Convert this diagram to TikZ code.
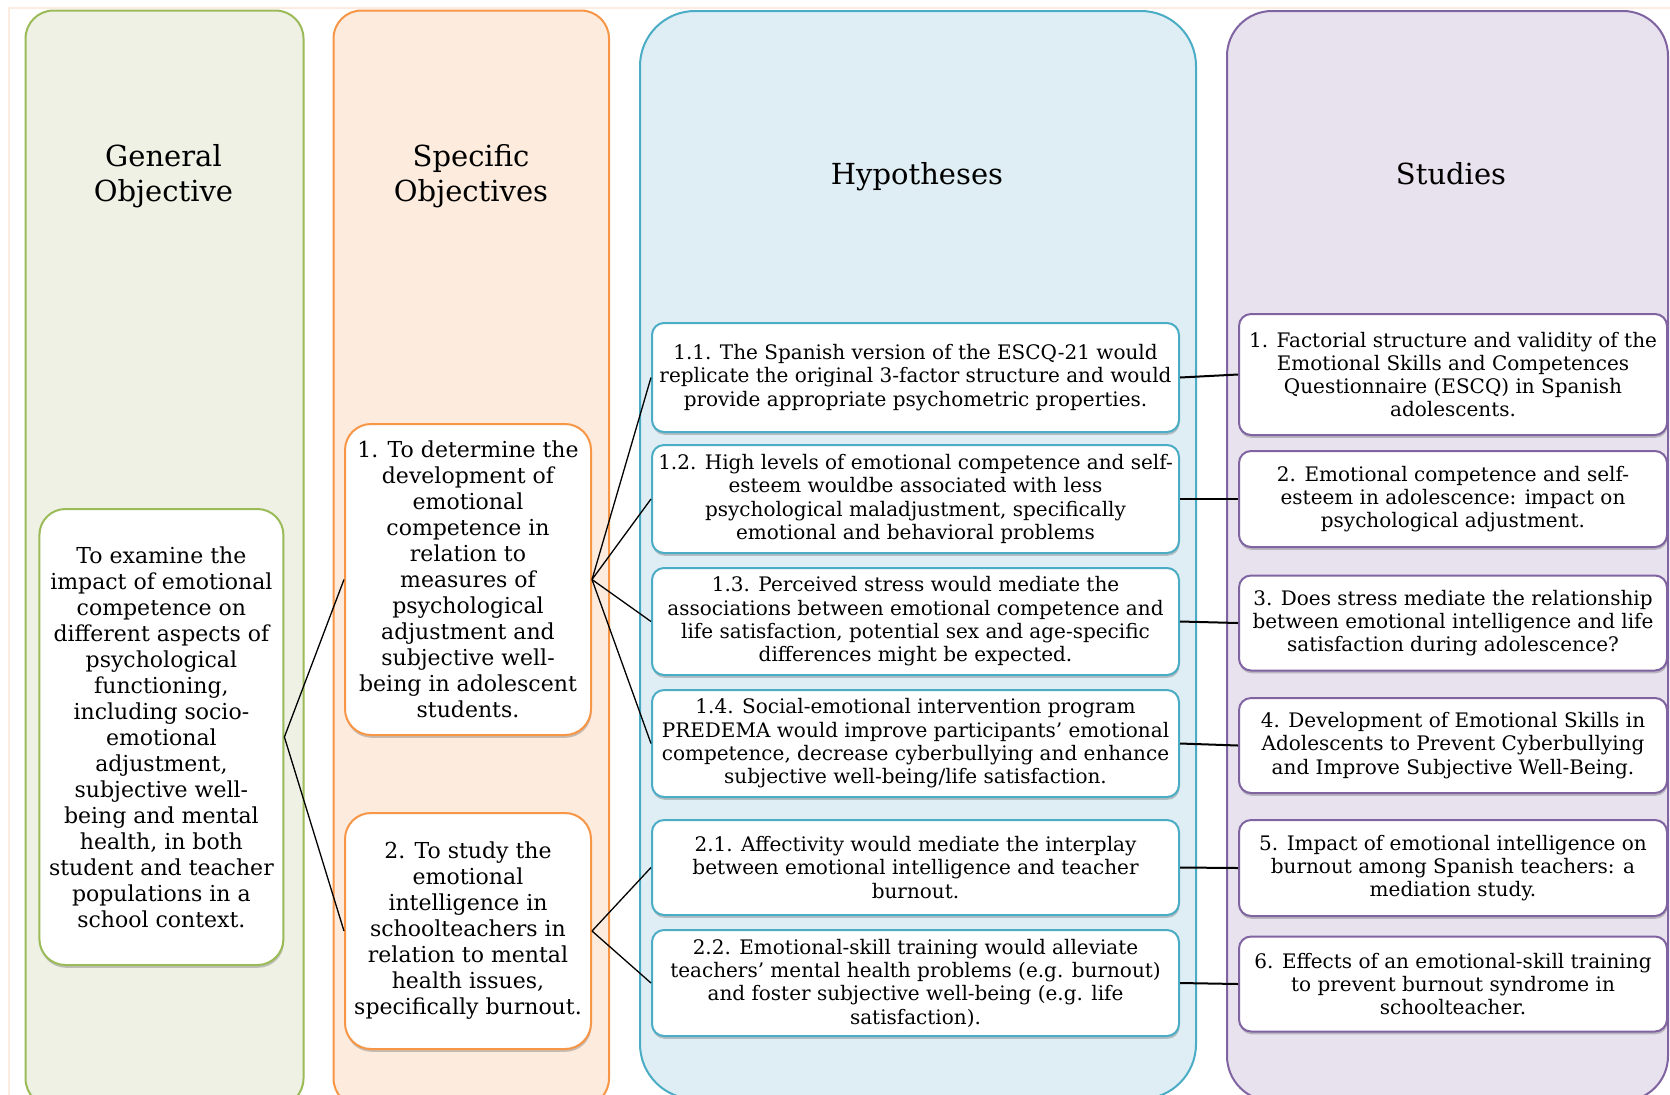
\documentclass[tikz,border=0pt]{standalone}
\usepackage{fontspec}
\newfontfamily\serifbody{DejaVu Serif}
\usetikzlibrary{shadows}

\definecolor{goFill}{HTML}{EEF1E4}
\definecolor{goLine}{HTML}{9BBB59}
\definecolor{soFill}{HTML}{FDEBDD}
\definecolor{soLine}{HTML}{F79646}
\definecolor{hyFill}{HTML}{DFEEF4}
\definecolor{hyLine}{HTML}{4BACC6}
\definecolor{stFill}{HTML}{E7E2EE}
\definecolor{stLine}{HTML}{8064A2}
\definecolor{frameLine}{HTML}{FCEBE0}

\begin{document}
\begin{tikzpicture}[x=0.5pt,y=-0.5pt,
  size/.style 2 args={minimum width={#1*0.5pt}, minimum height={#2*0.5pt}},
  column/.style={line width=1pt, inner sep=0pt},
  heading/.style={font=\serifbody\fontsize{14.5}{17.5}\selectfont, align=center, inner sep=0pt},
  card/.style={fill=white, text=black, line width=1pt, align=center, inner sep=0pt,
    drop shadow={shadow xshift=0.3pt, shadow yshift=-1.4pt, opacity=0.3, fill=black!70}},
  bigcard/.style={card, rounded corners=13pt, font=\serifbody\fontsize{11}{13}\selectfont},
  smallcard/.style={card, rounded corners=6pt, font=\serifbody\fontsize{10}{11.65}\selectfont},
  gocard/.style={bigcard, draw=goLine},
  socard/.style={bigcard, draw=soLine},
  hycard/.style={smallcard, draw=hyLine, size={527}{#1}},
  stcard/.style={smallcard, draw=stLine, size={428}{#1}},
  link/.style={line width=0.65pt, draw=black},
  studylink/.style={line width=1pt, draw=black},
]
\useasboundingbox (0,0) rectangle (1670,1094);
\fill[white] (0,0) rectangle (1670,1094);
\clip (0,0) rectangle (1670,1094);

% faint outer frame
\draw[frameLine, line width=1pt] (9,1110) -- (9,8) -- (1690,8);

% the four column panels
\node[column, draw=goLine, fill=goFill, rounded corners=14pt, size={278}{1096}, anchor=north west] (colGeneral) at (24.5,9.5) {};
\node[column, draw=soLine, fill=soFill, rounded corners=14pt, size={275.5}{1096}, anchor=north west] (colSpecific) at (332.5,9.5) {};
\node[column, draw=hyLine, fill=hyFill, rounded corners=27.5pt, size={556}{1088}, anchor=north west] (colHyp) at (639,10) {};
\node[column, draw=stLine, fill=stFill, rounded corners=22.5pt, size={441}{1090}, anchor=north west] (colStudies) at (1226,10) {};

% column headings
\node[heading] (hGeneral) at (163.5,176.5) {General\\Objective};
\node[heading] (hSpecific) at (471,176.5) {Specific\\Objectives};
\node[heading, anchor=base] (hHyp) at (917,184) {Hypotheses};
\node[heading, anchor=base] (hStudies) at (1451,184) {Studies};

% general objective
\node[gocard, size={244}{456}] (go) at (161.4,737) {To examine the\\ impact of emotional\\ competence on\\ different aspects of\\ psychological\\ functioning,\\ including socio-\\ emotional\\ adjustment,\\ subjective well-\\ being and mental\\ health, in both\\ student and teacher\\ populations in a\\ school context.};

% specific objectives
\node[socard, size={246}{311}] (so1) at (468,579.5) {1. To determine the\\ development of\\ emotional\\ competence in\\ relation to\\ measures of\\ psychological\\ adjustment and\\ subjective well-\\ being in adolescent\\ students.};
\node[socard, size={246}{236}] (so2) at (468,931) {2. To study the\\ emotional\\ intelligence in\\ schoolteachers in\\ relation to mental\\ health issues,\\ specifically burnout.};

% hypotheses
\node[hycard=109] (h11) at (915.5,377.5) {1.1. The Spanish version of the ESCQ-21 would\\ replicate the original 3-factor structure and would\\ provide appropriate psychometric properties.};
\node[hycard=108] (h12) at (915.5,499) {1.2. High levels of emotional competence and self-\\ esteem wouldbe associated with less\\ psychological maladjustment, specifically\\ emotional and behavioral problems};
\node[hycard=107] (h13) at (915.5,621.5) {1.3. Perceived stress would mediate the\\ associations between emotional competence and\\ life satisfaction, potential sex and age-specific\\ differences might be expected.};
\node[hycard=107] (h14) at (915.5,743.5) {1.4. Social-emotional intervention program\\ PREDEMA would improve participants’ emotional\\ competence, decrease cyberbullying and enhance\\ subjective well-being/life satisfaction.};
\node[hycard=95] (h21) at (915.5,867.5) {2.1. Affectivity would mediate the interplay\\ between emotional intelligence and teacher\\ burnout.};
\node[hycard=106] (h22) at (915.5,983) {2.2. Emotional-skill training would alleviate\\ teachers’ mental health problems (e.g. burnout)\\ and foster subjective well-being (e.g. life\\ satisfaction).};

% studies
\node[stcard=121] (s1) at (1453,374.5) {1. Factorial structure and validity of the\\ Emotional Skills and Competences\\ Questionnaire (ESCQ) in Spanish\\ adolescents.};
\node[stcard=96] (s2) at (1453,499) {2. Emotional competence and self-\\ esteem in adolescence: impact on\\ psychological adjustment.};
\node[stcard=95] (s3) at (1453,623) {3. Does stress mediate the relationship\\ between emotional intelligence and life\\ satisfaction during adolescence?};
\node[stcard=95] (s4) at (1453,745.5) {4. Development of Emotional Skills in\\ Adolescents to Prevent Cyberbullying\\ and Improve Subjective Well-Being.};
\node[stcard=96] (s5) at (1453,868) {5. Impact of emotional intelligence on\\ burnout among Spanish teachers: a\\ mediation study.};
\node[stcard=95] (s6) at (1453,984) {6. Effects of an emotional-skill training\\ to prevent burnout syndrome in\\ schoolteacher.};

% connectors
\draw[link] (go.east) -- (so1.west);
\draw[link] (go.east) -- (so2.west);
\foreach \h in {h11,h12,h13,h14} \draw[link] (so1.east) -- (\h.west);
\foreach \h in {h21,h22} \draw[link] (so2.east) -- (\h.west);
\draw[studylink] (h11.east) -- (s1.west);
\draw[studylink] (h12.east) -- (s2.west);
\draw[studylink] (h13.east) -- (s3.west);
\draw[studylink] (h14.east) -- (s4.west);
\draw[studylink] (h21.east) -- (s5.west);
\draw[studylink] (h22.east) -- (s6.west);
\end{tikzpicture}
\end{document}
